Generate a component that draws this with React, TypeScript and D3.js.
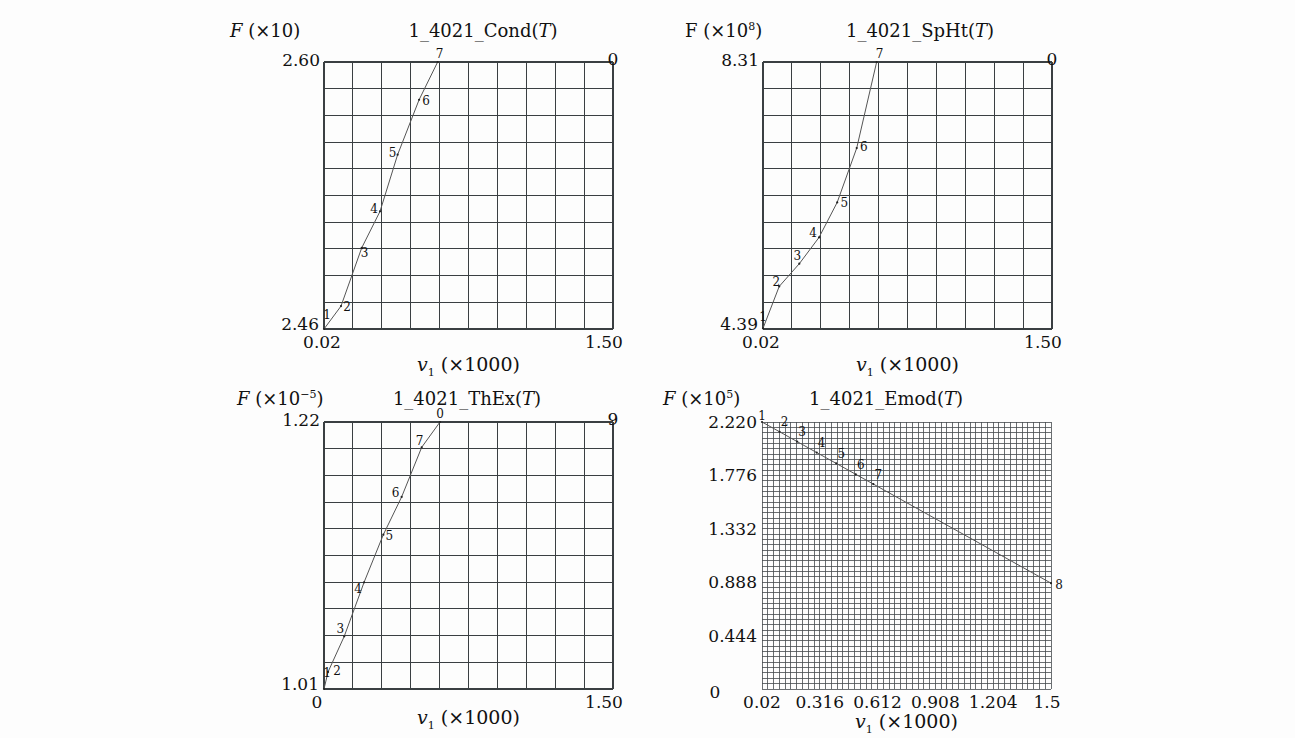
import { useEffect, useRef } from 'react';
import * as d3 from 'd3';

// Cond(T)
const xCond = [0.02, 0.107, 0.213, 0.307, 0.397, 0.507, 0.602];
const yCond = [2.46, 2.472, 2.5025, 2.5217, 2.5514, 2.5802, 2.6];
const lblCond = ['1', '2', '3', '4', '5', '6', '7'];

// SpHt(T)
const xSpHt = [0.02, 0.103, 0.206, 0.307, 0.4, 0.5, 0.602];
const ySpHt = [4.4, 5.015, 5.349, 5.735, 6.249, 7.047, 8.31];
const lblSpHt = ['1', '2', '3', '4', '5', '6', '7'];

// ThEx(T)
const xThEx = [0, 0.021, 0.105, 0.208, 0.308, 0.403, 0.507, 0.602];
const yThEx = [1.01, 1.0234, 1.0514, 1.0939, 1.1314, 1.1611, 1.2001, 1.22];
const lblThEx = ['1', '2', '3', '4', '5', '6', '7', '0'];

// Emod(T)
const xEmod = [0.02, 0.11, 0.2, 0.3, 0.4, 0.5, 0.59, 1.5];
const yEmod = [2.22, 2.139, 2.057, 1.966, 1.876, 1.785, 1.704, 0.88];
const lblEmod = ['1', '2', '3', '4', '5', '6', '7', '8'];

const emodXTicks = [0.02, 0.316, 0.612, 0.908, 1.204, 1.5];
const emodXTickLabels = ['0.02', '0.316', '0.612', '0.908', '1.204', '1.5'];
const emodYTicks = [0, 0.444, 0.888, 1.332, 1.776, 2.22];
const emodYTickLabels = ['0', '0.444', '0.888', '1.332', '1.776', '2.220'];

const FONT = '"DejaVu Serif", serif';
const W = 289;
const H = 267;

type Panel = {
  left: number;
  top: number;
  xs: number[];
  ys: number[];
  labels: string[];
  offsets: [number, number][];
  xDomain: [number, number];
  yDomain: [number, number];
  fine?: boolean;
  name: string;
  fItalic: boolean;
  exp: string;
  headerDy: number;
  titleDx: number;
  headerDx: number;
  axisDy: number;
  yMaxLabel?: string;
  yMinLabel?: string;
  xMinLabel?: string;
  xMaxLabel?: string;
  cornerLabel?: string;
};

const panels: Panel[] = [
  {
    left: 324, top: 62, xs: xCond, ys: yCond, labels: lblCond,
    offsets: [[3, -14], [6, 1], [3, 6], [-6, -2], [-5, -1], [7, 2], [2, -8]],
    xDomain: [0.02, 1.5], yDomain: [2.46, 2.6],
    name: 'Cond', fItalic: true, exp: '', headerDy: -25, titleDx: 159, headerDx: -94, axisDy: 42,
    yMaxLabel: '2.60', yMinLabel: '2.46', xMinLabel: '0.02', xMaxLabel: '1.50', cornerLabel: '0',
  },
  {
    left: 763, top: 62, xs: xSpHt, ys: ySpHt, labels: lblSpHt,
    offsets: [[0, -11], [-3, -4], [-2, -7], [-6, -4], [7, 1], [7, -1], [3, -8]],
    xDomain: [0.02, 1.5], yDomain: [4.39, 8.31],
    name: 'SpHt', fItalic: false, exp: '8', headerDy: -25, titleDx: 157, headerDx: -78, axisDy: 42,
    yMaxLabel: '8.31', yMinLabel: '4.39', xMinLabel: '0.02', xMaxLabel: '1.50', cornerLabel: '0',
  },
  {
    left: 324, top: 422, xs: xThEx, ys: yThEx, labels: lblThEx,
    offsets: [[3, -16], [9, 0], [-4, -7], [-6, 7], [6, 2], [-6, -3], [-2, -6], [0, -8]],
    xDomain: [0, 1.5], yDomain: [1.01, 1.22],
    name: 'ThEx', fItalic: true, exp: '−5', headerDy: -17, titleDx: 143, headerDx: -87, axisDy: 35,
    yMaxLabel: '1.22', yMinLabel: '1.01', xMinLabel: '0', xMaxLabel: '1.50', cornerLabel: '9',
  },
  {
    left: 762, top: 422, xs: xEmod, ys: yEmod, labels: lblEmod,
    offsets: [[0, -6], [5, -9], [5, -9], [5, -9], [5, -9], [5, -9], [5, -9], [8, 2]],
    xDomain: [0.02, 1.5], yDomain: [0, 2.22], fine: true,
    name: 'Emod', fItalic: true, exp: '5', headerDy: -17, titleDx: 124, headerDx: -99, axisDy: 39,
  },
];

export default function App() {
  const svgRef = useRef<SVGSVGElement>(null);

  useEffect(() => {
    if (!svgRef.current) return;
    const svg = d3.select(svgRef.current);
    svg.selectAll('*').remove();

    svg.append('rect').attr('width', 1295).attr('height', 738).attr('fill', '#fdfdfd');

    panels.forEach((p) => {
      const g = svg.append('g').attr('transform', `translate(${p.left},${p.top})`);
      const x = d3.scaleLinear().domain(p.xDomain).range([0, W]);
      const y = d3.scaleLinear().domain(p.yDomain).range([H, 0]);

      // grid
      const nCells = p.fine ? 50 : 10;
      const gx = d3.range(nCells + 1).map((i) => (W * i) / nCells);
      const gy = d3.range(nCells + 1).map((i) => (H * i) / nCells);
      const grid = g.append('g')
        .attr('stroke', p.fine ? '#454a4d' : '#3a3f42')
        .attr('stroke-width', p.fine ? 0.8 : 1.1)
        .attr('shape-rendering', 'crispEdges');
      grid.selectAll('.vx').data(gx).join('line')
        .attr('x1', (d) => d).attr('x2', (d) => d).attr('y1', 0).attr('y2', H);
      grid.selectAll('.hy').data(gy).join('line')
        .attr('x1', 0).attr('x2', W).attr('y1', (d) => d).attr('y2', (d) => d);

      // curve
      const pts = p.xs.map((v, i) => [x(v), y(p.ys[i])] as [number, number]);
      g.append('path')
        .attr('d', d3.line()(pts))
        .attr('fill', 'none')
        .attr('stroke', '#555')
        .attr('stroke-width', 1);

      g.selectAll('.pt').data(pts).join('circle')
        .attr('cx', (d) => d[0]).attr('cy', (d) => d[1]).attr('r', 1.1).attr('fill', '#222');

      g.selectAll('.pl').data(pts).join('text')
        .attr('x', (d, i) => d[0] + p.offsets[i][0])
        .attr('y', (d, i) => d[1] + p.offsets[i][1])
        .attr('text-anchor', 'middle')
        .attr('dominant-baseline', 'middle')
        .style('font-family', FONT)
        .style('font-size', '12px')
        .attr('fill', '#111')
        .text((d, i) => p.labels[i]);

      const txt = (tx: number, ty: number, s: string, anchor = 'middle') =>
        g.append('text')
          .attr('x', tx).attr('y', ty)
          .attr('text-anchor', anchor)
          .style('font-family', FONT)
          .style('font-size', '17px')
          .attr('fill', '#111')
          .text(s);

      // tick labels
      if (p.fine) {
        emodYTicks.forEach((t, i) => {
          if (i === 0) txt(-47, y(t) + 9, emodYTickLabels[i]);
          else txt(-5, y(t) + 6, emodYTickLabels[i], 'end');
        });
        emodXTicks.forEach((t, i) => {
          txt(i === emodXTicks.length - 1 ? x(t) - 4 : x(t), H + 19, emodXTickLabels[i]);
        });
      } else {
        txt(-4, 4, p.yMaxLabel!, 'end');
        txt(-5, H + 1, p.yMinLabel!, 'end');
        txt(p.xMinLabel === '0' ? -7 : -2, H + 19, p.xMinLabel!);
        txt(W - 9, H + 19, p.xMaxLabel!);
        txt(W, 3, p.cornerLabel!);
      }

      // header: F (×10^n)
      const head = g.append('text')
        .attr('x', p.headerDx).attr('y', p.headerDy)
        .style('font-family', FONT)
        .style('font-size', '18px')
        .attr('fill', '#111');
      head.append('tspan').style('font-style', p.fItalic ? 'italic' : 'normal').text('F');
      head.append('tspan').text(' (×10');
      if (p.exp) {
        head.append('tspan').attr('dy', -7).style('font-size', '11px').text(p.exp);
        head.append('tspan').attr('dy', 7).text(')');
      } else {
        head.append('tspan').text(')');
      }

      // title
      const title = g.append('text')
        .attr('x', p.titleDx).attr('y', p.headerDy)
        .attr('text-anchor', 'middle')
        .style('font-family', FONT)
        .style('font-size', '18px')
        .attr('fill', '#111');
      title.append('tspan').text(`1_4021_${p.name}(`);
      title.append('tspan').style('font-style', 'italic').text('T');
      title.append('tspan').text(')');

      // x axis label
      const ax = g.append('text')
        .attr('x', W / 2).attr('y', H + p.axisDy)
        .attr('text-anchor', 'middle')
        .style('font-family', FONT)
        .style('font-size', '19px')
        .attr('fill', '#111');
      ax.append('tspan').style('font-style', 'italic').text('v');
      ax.append('tspan').attr('dy', 5).style('font-size', '11px').text('1');
      ax.append('tspan').attr('dy', -5).text(' (×1000)');
    });
  }, []);

  return (
    <svg
      ref={svgRef}
      width={1295}
      height={738}
      style={{ position: 'absolute', left: 0, top: 0 }}
    />
  );
}
